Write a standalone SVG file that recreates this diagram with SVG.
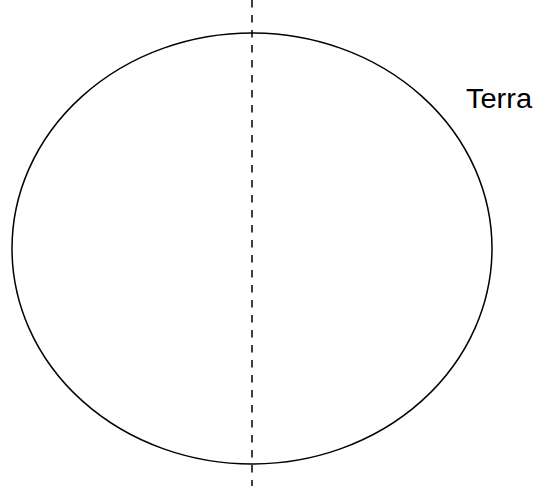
<svg xmlns="http://www.w3.org/2000/svg" width="537" height="486" viewBox="0 0 537 486">
<style>
.shape{fill:none;stroke:#000;stroke-width:1.5}
.axis{stroke:#000;stroke-width:1.5;stroke-dasharray:7.5,7.5}
.lbl{font-family:"Liberation Sans",Arial,sans-serif;font-size:27px;fill:#000}
</style>
<rect width="537" height="486" fill="#fff"/>
<g id="earth">
<ellipse class="shape" cx="252" cy="248.5" rx="240" ry="215.5"/>
<text class="lbl" x="466" y="108" textLength="66" lengthAdjust="spacingAndGlyphs">Terra</text>
</g>
<g id="connectors">
<line class="axis" x1="252" y1="0" x2="252" y2="486"/>
</g>
</svg>
